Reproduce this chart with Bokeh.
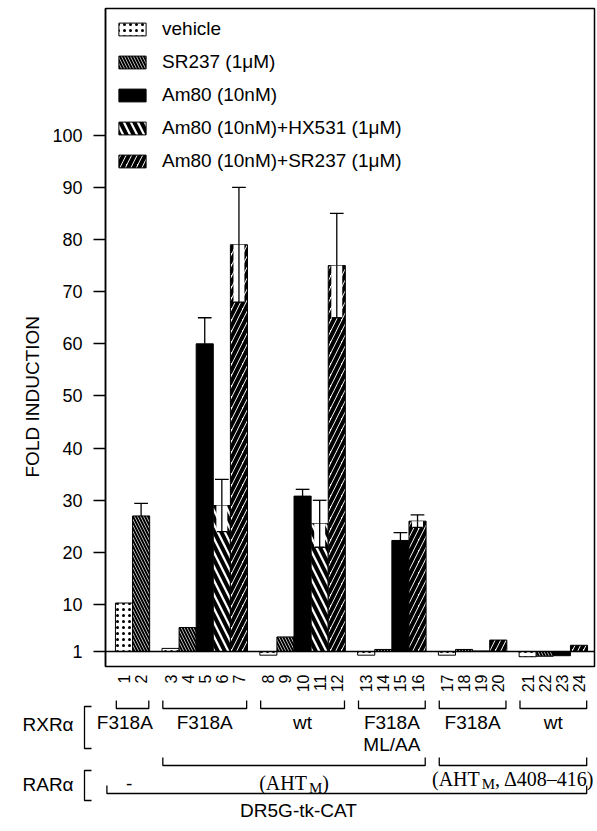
import math
from bokeh.plotting import figure
from bokeh.models import Range1d, FixedTicker, Span, Title
from bokeh.layouts import column
from bokeh.embed import file_html
from bokeh.resources import INLINE
from bokeh.core.properties import value

# ---------------- data ----------------
lanes = list(range(1, 25))
groups = [0, 0, 1, 1, 1, 1, 1, 2, 2, 2, 2, 2, 3, 3, 3, 3, 4, 4, 4, 4, 5, 5, 5, 5]
treatments = ["vehicle", "SR237",
              "vehicle", "SR237", "Am80", "HX531", "Am80SR",
              "vehicle", "SR237", "Am80", "HX531", "Am80SR",
              "vehicle", "SR237", "Am80", "Am80SR",
              "vehicle", "SR237", "Am80", "Am80SR",
              "vehicle", "SR237", "Am80", "Am80SR"]
fold = [10.3, 27.0,
        1.6, 5.6, 60.0, 29.0, 79.0,
        0.3, 3.8, 30.8, 25.5, 75.0,
        0.3, 1.4, 22.3, 26.0,
        0.3, 1.4, 1.1, 3.2,
        0.0, 0.1, 0.2, 2.2]
err = [0, 2.4,
       0, 0, 5.0, 5.0, 11.0,
       0, 0, 1.3, 4.5, 10.0,
       0, 0, 1.5, 1.2,
       0, 0, 0, 0,
       0, 0, 0, 0]
series_order = ["vehicle", "SR237", "Am80", "HX531", "Am80SR"]
series_labels = ["vehicle", "SR237 (1\u03bcM)", "Am80 (10nM)",
                 "Am80 (10nM)+HX531 (1\u03bcM)", "Am80 (10nM)+SR237 (1\u03bcM)"]
y_ticks = [1, 10, 20, 30, 40, 50, 60, 70, 80, 90, 100]
rxr_labels = ["F318A", "F318A", "wt", "F318A\nML/AA", "F318A", "wt"]

# ---------------- layout helpers ----------------
GAP = 0.72
pos = [l + GAP * g for l, g in zip(lanes, groups)]
PX = 455.0 / (pos[-1] - pos[0])          # pixels per x unit
X0 = pos[0] - 18.5 / PX
X1 = pos[-1] + 15.5 / PX
def px2x(px):
    return X0 + (px - 105) / PX

SANS = "Liberation Sans"
SERIF = "Liberation Serif"

styles = {
    "vehicle": dict(fill_color="white", hatch_pattern="dot", hatch_color="black", hatch_scale=6, hatch_weight=1),
    "SR237": dict(fill_color="black", hatch_pattern="left_diagonal_line", hatch_color="white", hatch_scale=6, hatch_weight=0.7),
    "Am80": dict(fill_color="black"),
    "HX531": dict(fill_color="white", hatch_pattern="left_diagonal_line", hatch_color="black", hatch_scale=14, hatch_weight=4),
    "Am80SR": dict(fill_color="white", hatch_pattern="right_diagonal_line", hatch_color="black", hatch_scale=11, hatch_weight=4),
}

# ---------------- main chart ----------------
p = figure(width=597, height=695, x_range=Range1d(X0, X1), y_range=Range1d(-1.87, 124.3),
           output_backend="svg", toolbar_location=None,
           min_border_left=105, min_border_right=3, min_border_top=8, min_border_bottom=28)
p.frame_align = False
p.outline_line_color = "black"
p.outline_line_width = 1.5
p.grid.visible = False

for key, lab in zip(series_order, series_labels):
    xs = [x for x, t in zip(pos, treatments) if t == key]
    tops = [v for v, t in zip(fold, treatments) if t == key]
    p.vbar(x=xs, top=tops, bottom=1, width=1.0, line_color="black", line_width=1,
           legend_label=lab, **styles[key])

# error bars
for x, v, e, t in zip(pos, fold, err, treatments):
    if e <= 0:
        continue
    if t in ("HX531", "Am80SR"):
        p.quad(left=[x - 0.32], right=[x + 0.32], bottom=[v - e], top=[v],
               fill_color="white", line_color=None)
        p.segment(x0=[x], y0=[v - e], x1=[x], y1=[v], line_color="black", line_width=1.3)
        p.segment(x0=[x - 0.3], y0=[v - e], x1=[x + 0.3], y1=[v - e], line_color="black", line_width=1.3)
    p.segment(x0=[x], y0=[v], x1=[x], y1=[v + e], line_color="black", line_width=1.3)
    p.segment(x0=[x - 0.4], y0=[v + e], x1=[x + 0.4], y1=[v + e], line_color="black", line_width=1.3)

p.add_layout(Span(location=1, dimension="width", line_color="black", line_width=1.5))

# y axis
p.yaxis.ticker = FixedTicker(ticks=y_ticks)
p.yaxis.minor_tick_line_color = None
p.yaxis.major_tick_out = 12
p.yaxis.major_tick_in = 0
p.yaxis.major_tick_line_width = 1.5
p.yaxis.axis_line_width = 1.5
p.yaxis.major_label_standoff = 11
p.yaxis.major_label_text_font = SANS
p.yaxis.major_label_text_font_size = "18px"
p.yaxis.major_label_text_color = "black"

# y axis title (positioned like the original, below the frame centre)
ytitle = Title(text="FOLD INDUCTION", align="left", offset=189, standoff=14,
               text_font=SANS, text_font_size="19px", text_font_style="normal", text_color="black")
p.add_layout(ytitle, "left")

# x axis: lane numbers
p.xaxis.ticker = FixedTicker(ticks=pos)
p.xaxis.major_label_overrides = {x: str(l) for x, l in zip(pos, lanes)}
p.xaxis.major_label_orientation = math.pi / 2
p.xaxis.axis_line_color = None
p.xaxis.major_tick_line_color = None
p.xaxis.minor_tick_line_color = None
p.xaxis.major_label_standoff = 2
p.xaxis.major_label_text_font = SANS
p.xaxis.major_label_text_font_size = "16px"
p.xaxis.major_label_text_color = "black"

# legend
lg = p.legend[0]
lg.location = "top_left"
lg.margin = 10
lg.padding = 4
lg.glyph_width = 34
lg.glyph_height = 16
lg.label_height = 20
lg.spacing = 11
lg.label_standoff = 13
lg.label_text_font = SANS
lg.label_text_font_size = "19px"
lg.label_text_color = "black"
lg.border_line_color = None
lg.background_fill_alpha = 0

# ---------------- annotation strip ----------------
b = figure(width=597, height=136, x_range=Range1d(px2x(0), px2x(597)), y_range=Range1d(831, 695),
           output_backend="svg", toolbar_location=None, min_border=0,
           x_axis_location=None, y_axis_location=None)
b.frame_align = False
b.outline_line_color = None
b.grid.visible = False

def bracket(xa, xb, yl, yt):
    b.multi_line(xs=[[xa, xa, xb, xb]], ys=[[yt, yl, yl, yt]], line_color="black", line_width=1.3)

def gspan(g):
    ps = [x for x, gg in zip(pos, groups) if gg == g]
    return ps[0], ps[-1]

txt = dict(text_font=value(SANS), text_font_size="19px", text_baseline="middle", text_color="black")

# group brackets under lane numbers + RXR labels
for g, lab in enumerate(rxr_labels):
    a, z = gspan(g)
    bracket(a - 0.45, z + 0.45, 708, 700)
    c = (a + z) / 2 - (0.45 if g == 0 else 0)
    lines = lab.split("\n")
    for i, s in enumerate(lines):
        b.text(x=[c], y=[722 + 22 * i], text=[s], text_align="center", **txt)

# RXR / RAR row titles with left brackets
b.text(x=[px2x(22)], y=[724], text=["RXR\u03b1"], text_align="left", **txt)
b.text(x=[px2x(22)], y=[784], text=["RAR\u03b1"], text_align="left", **txt)
b.multi_line(xs=[[px2x(91), px2x(84), px2x(84), px2x(91)]], ys=[[706, 706, 748, 748]],
             line_color="black", line_width=1.3)
b.multi_line(xs=[[px2x(91), px2x(84), px2x(84), px2x(91)]], ys=[[770, 770, 800, 800]],
             line_color="black", line_width=1.3)

# RAR brackets
a1, _ = gspan(1)
_, z3 = gspan(3)
a4, _ = gspan(4)
_, z5 = gspan(5)
bracket(a1 - 0.45, z3 + 0.45, 765, 757)
bracket(a4 - 0.45, z5 + 0.45, 765, 757)

a0, z0 = gspan(0)
b.text(x=[(a0 + z0) / 2 - 0.2], y=[783], text=["-"], text_align="center", **txt)

# serif constructs with subscript M
def aht(center_px, y, tail):
    fs = 20
    w_main = 2.388 * fs + 2
    w_sub = 0.889 * 15
    tail_w = {")": 0.333, ", \u0394408\u2013416)": 4.945}[tail] * fs
    start = center_px - (w_main + w_sub + tail_w) / 2
    st = dict(text_font=value(SERIF), text_baseline="middle", text_align="left", text_color="black")
    b.text(x=[px2x(start)], y=[y], text=["(AHT"], text_font_size="20px", **st)
    b.text(x=[px2x(start + w_main)], y=[y + 5], text=["M"], text_font_size="15px", **st)
    b.text(x=[px2x(start + w_main + w_sub)], y=[y], text=[tail], text_font_size="20px", **st)

c13 = 105 + ((a1 - 0.45 + z3 + 0.45) / 2 - X0) * PX
c48 = 105 + ((a4 - 0.45 + z5 + 0.45) / 2 - X0) * PX
aht(c13, 782, ")")
aht(min(c48, 597 - 84), 778, ", \u0394408\u2013416)")

# DR5G bracket
bracket(a0 - 1.0, z5 + 0.45, 793, 785)
b.text(x=[px2x(298)], y=[810], text=["DR5G-tk-CAT"], text_align="center", **txt)

layout = column(p, b, spacing=0)
open("out.html", "w").write(file_html(layout, INLINE))
